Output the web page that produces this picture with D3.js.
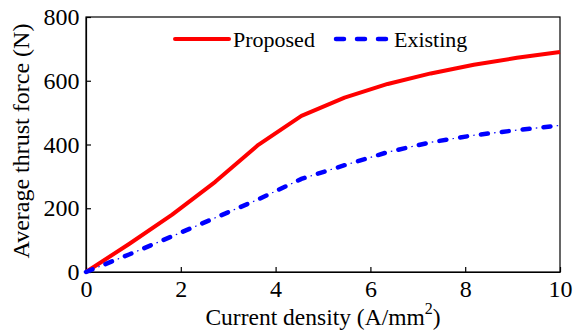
<!DOCTYPE html>
<html>
<head>
<meta charset="utf-8">
<script src="https://cdn.jsdelivr.net/npm/d3@7"></script>
</head>
<body style="margin:0;padding:0;background:#fff">
<svg id="chart" width="573" height="333" style="display:block" font-family="Liberation Serif"></svg>
<script>
// Current density samples (A/mm^2)
const currentDensity = [0, 0.909, 1.818, 2.727, 3.636, 4.545, 5.455, 6.364, 7.273, 8.182, 9.091, 10];
// Average thrust force (N)
const proposed = [0, 88, 180, 283, 399, 490, 547, 590, 623, 650, 672, 690];
const existing = [0, 55, 112, 170, 228, 292, 335, 376, 407, 429, 445, 460];

const xTicks = [0, 2, 4, 6, 8, 10];
const yTicks = [0, 200, 400, 600, 800];

const FONT = "Liberation Serif";
const margin = { left: 86, right: 13, top: 17, bottom: 61 };
const W = 573, H = 333;
const svg = d3.select("#chart");

const x = d3.scaleLinear().domain([0, 10]).range([margin.left, W - margin.right]);
const y = d3.scaleLinear().domain([0, 800]).range([H - margin.bottom, margin.top]);

const line = d3.line().x((d, i) => x(currentDensity[i])).y(d => y(d));

// plot frame
svg.append("rect")
  .attr("x", x(0)).attr("y", y(800))
  .attr("width", x(10) - x(0)).attr("height", y(0) - y(800))
  .attr("fill", "none").attr("stroke", "#000").attr("stroke-width", 1.2);

// axes with inward ticks
const xAxis = svg.append("g")
  .attr("transform", `translate(0,${y(0)})`)
  .call(d3.axisBottom(x).tickValues(xTicks).tickFormat(d3.format("d")).tickSizeInner(-5).tickSizeOuter(0).tickPadding(7.5));
const yAxis = svg.append("g")
  .attr("transform", `translate(${x(0)},0)`)
  .call(d3.axisLeft(y).tickValues(yTicks).tickFormat(d3.format("d")).tickSizeInner(-5).tickSizeOuter(0).tickPadding(6.5));

[xAxis, yAxis].forEach(g => {
  g.attr("font-family", FONT).attr("font-size", 24);
  g.select(".domain").attr("stroke", "#000").attr("stroke-width", 1.2);
  g.selectAll(".tick line").attr("stroke", "#000").attr("stroke-width", 1.2);
  g.selectAll(".tick text").attr("font-family", FONT).attr("font-size", 24).attr("fill", "#000");
});

// Proposed: solid red
svg.append("path")
  .datum(proposed)
  .attr("d", line)
  .attr("fill", "none")
  .attr("stroke", "#ff0000")
  .attr("stroke-width", 4)
  .attr("stroke-linejoin", "round");

// Existing: blue dash-dot (dashes with round caps plus thin dots between)
const existingG = svg.append("g");
existingG.append("path")
  .datum(existing)
  .attr("d", line)
  .attr("fill", "none")
  .attr("stroke", "#0000ff")
  .attr("stroke-width", 4.5)
  .attr("stroke-linecap", "round")
  .attr("stroke-dasharray", "7,14");
existingG.append("path")
  .datum(existing)
  .attr("d", line)
  .attr("fill", "none")
  .attr("stroke", "#0000ff")
  .attr("stroke-width", 1.2)
  .attr("stroke-dasharray", "0,13.25,1.5,6.25");

// legend
const legend = svg.append("g").attr("font-family", FONT).attr("font-size", 22);
const ly = 39;
legend.append("line")
  .attr("x1", 175).attr("x2", 229).attr("y1", ly).attr("y2", ly)
  .attr("stroke", "#ff0000").attr("stroke-width", 4).attr("stroke-linecap", "round");
legend.append("text")
  .attr("x", 233).attr("y", ly + 7.5)
  .attr("font-family", FONT).text("Proposed");
legend.append("line")
  .attr("x1", 336).attr("x2", 387).attr("y1", ly).attr("y2", ly)
  .attr("stroke", "#0000ff").attr("stroke-width", 4.5).attr("stroke-linecap", "round")
  .attr("stroke-dasharray", "8,13");
legend.append("text")
  .attr("x", 394).attr("y", ly + 7.5)
  .attr("font-family", FONT).text("Existing");

// axis titles
const xt = svg.append("text")
  .attr("x", 323).attr("y", 324.5)
  .attr("text-anchor", "middle")
  .attr("font-family", FONT).attr("font-size", 23.5);
xt.append("tspan").text("Current density (A/mm");
xt.append("tspan").attr("font-size", 16).attr("dy", -11).text("2");
xt.append("tspan").attr("dy", 11).text(")");

svg.append("text")
  .attr("transform", "translate(28.5,141) rotate(-90)")
  .attr("text-anchor", "middle")
  .attr("font-family", FONT).attr("font-size", 24)
  .text("Average thrust force (N)");
</script>
</body>
</html>
